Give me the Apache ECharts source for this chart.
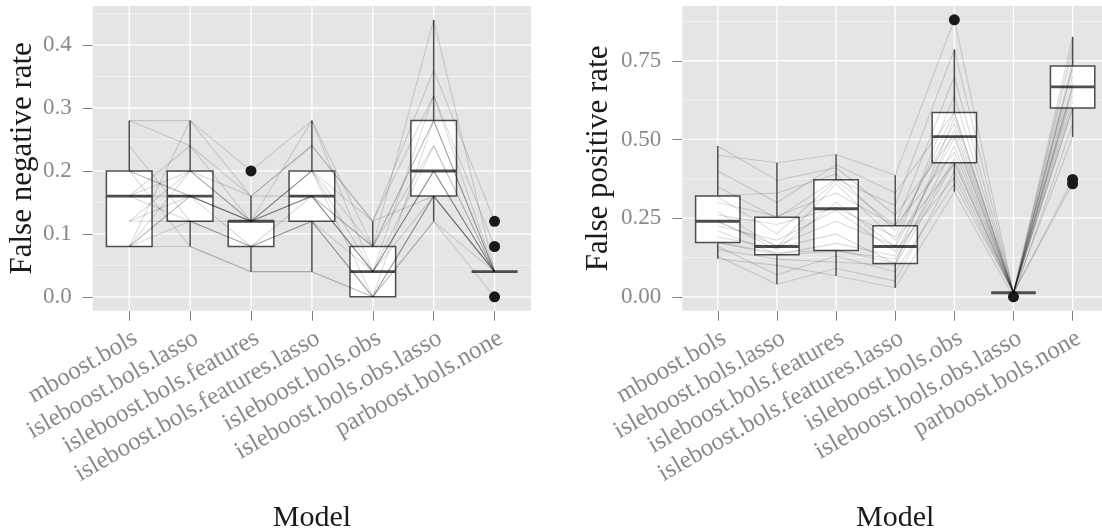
<!DOCTYPE html>
<html>
<head>
<meta charset="utf-8">
<script src="https://cdn.jsdelivr.net/npm/echarts@6/dist/echarts.min.js"></script>
<style>
  html, body { margin: 0; padding: 0; background: #ffffff; }
  #chart { width: 1102px; height: 531px; }
</style>
</head>
<body>
<div id="chart"></div>
<script>
// Model names along both x axes
const models = [
  'mboost.bols',
  'isleboost.bols.lasso',
  'isleboost.bols.features',
  'isleboost.bols.features.lasso',
  'isleboost.bols.obs',
  'isleboost.bols.obs.lasso',
  'parboost.bols.none'
];

// False negative rate per simulation run, one row per run, one column per model
const fnrRuns = [
  [0.28, 0.24, 0.12, 0.28, 0.08, 0.44, 0.04],
  [0.28, 0.28, 0.16, 0.24, 0.12, 0.36, 0.12],
  [0.08, 0.28, 0.20, 0.28, 0.04, 0.32, 0.04],
  [0.08, 0.20, 0.12, 0.20, 0.00, 0.28, 0.04],
  [0.08, 0.16, 0.12, 0.16, 0.04, 0.20, 0.04],
  [0.08, 0.12, 0.08, 0.12, 0.00, 0.16, 0.04],
  [0.08, 0.08, 0.04, 0.04, 0.00, 0.12, 0.00],
  [0.08, 0.16, 0.08, 0.16, 0.04, 0.24, 0.04],
  [0.12, 0.20, 0.12, 0.16, 0.08, 0.28, 0.04],
  [0.12, 0.16, 0.12, 0.20, 0.04, 0.20, 0.04],
  [0.12, 0.12, 0.08, 0.12, 0.00, 0.16, 0.04],
  [0.16, 0.24, 0.16, 0.24, 0.12, 0.32, 0.08],
  [0.16, 0.16, 0.12, 0.16, 0.04, 0.20, 0.04],
  [0.16, 0.20, 0.12, 0.20, 0.08, 0.28, 0.04],
  [0.16, 0.12, 0.08, 0.12, 0.00, 0.16, 0.04],
  [0.20, 0.20, 0.16, 0.16, 0.08, 0.24, 0.04],
  [0.20, 0.16, 0.12, 0.16, 0.04, 0.20, 0.04],
  [0.20, 0.16, 0.12, 0.20, 0.12, 0.16, 0.04],
  [0.20, 0.08, 0.04, 0.04, 0.00, 0.12, 0.04],
  [0.24, 0.12, 0.12, 0.12, 0.04, 0.16, 0.04]
];
// Box statistics per model: [lower whisker, Q1, median, Q3, upper whisker]
const fnrBox = [
  [0.08, 0.08, 0.16, 0.20, 0.28],
  [0.08, 0.12, 0.16, 0.20, 0.28],
  [0.04, 0.08, 0.12, 0.12, 0.16],
  [0.04, 0.12, 0.16, 0.20, 0.28],
  [0.00, 0.00, 0.04, 0.08, 0.12],
  [0.12, 0.16, 0.20, 0.28, 0.44],
  [0.04, 0.04, 0.04, 0.04, 0.04]
];
// Outliers: [model index, value]
const fnrOutliers = [[2, 0.20], [6, 0.12], [6, 0.08], [6, 0.00]];
const fnrTicks = [0.0, 0.1, 0.2, 0.3, 0.4];
const fnrMinor = [0.05, 0.15, 0.25, 0.35, 0.45];

// False positive rate per simulation run
const fprRuns = [
  [0.479, 0.370, 0.410, 0.260, 0.513, 0.013, 0.700],
  [0.450, 0.426, 0.452, 0.386, 0.880, 0.013, 0.800],
  [0.400, 0.300, 0.420, 0.330, 0.587, 0.013, 0.750],
  [0.350, 0.250, 0.374, 0.290, 0.786, 0.013, 0.826],
  [0.322, 0.330, 0.390, 0.210, 0.550, 0.013, 0.665],
  [0.318, 0.200, 0.370, 0.227, 0.460, 0.013, 0.732],
  [0.300, 0.256, 0.330, 0.225, 0.700, 0.013, 0.780],
  [0.270, 0.158, 0.360, 0.180, 0.424, 0.013, 0.359],
  [0.260, 0.230, 0.285, 0.190, 0.585, 0.013, 0.640],
  [0.242, 0.150, 0.300, 0.158, 0.505, 0.013, 0.680],
  [0.238, 0.162, 0.240, 0.162, 0.640, 0.013, 0.734],
  [0.225, 0.180, 0.275, 0.145, 0.380, 0.013, 0.602],
  [0.210, 0.135, 0.170, 0.130, 0.530, 0.013, 0.720],
  [0.190, 0.155, 0.200, 0.105, 0.570, 0.013, 0.669],
  [0.174, 0.133, 0.145, 0.120, 0.440, 0.013, 0.373],
  [0.172, 0.140, 0.149, 0.107, 0.480, 0.013, 0.655],
  [0.160, 0.070, 0.130, 0.080, 0.360, 0.013, 0.598],
  [0.150, 0.120, 0.110, 0.100, 0.428, 0.013, 0.620],
  [0.130, 0.040, 0.090, 0.050, 0.400, 0.013, 0.508],
  [0.121, 0.100, 0.067, 0.029, 0.334, 0.000, 0.550]
];
const fprBox = [
  [0.121, 0.173, 0.240, 0.320, 0.479],
  [0.040, 0.134, 0.160, 0.253, 0.426],
  [0.067, 0.147, 0.280, 0.372, 0.452],
  [0.029, 0.106, 0.160, 0.226, 0.386],
  [0.334, 0.426, 0.509, 0.586, 0.786],
  [0.013, 0.013, 0.013, 0.013, 0.013],
  [0.508, 0.600, 0.667, 0.733, 0.826]
];
const fprOutliers = [[4, 0.880], [5, 0.000], [6, 0.373], [6, 0.359]];
const fprTicks = [0.00, 0.25, 0.50, 0.75];
const fprMinor = [0.125, 0.375, 0.625, 0.875];

const categoryIdx = models.map((_, i) => i);

const SERIF = '"Liberation Serif", "DejaVu Serif", serif';
const PANEL = '#E5E5E5';
const BOX_EDGE = '#4D4D4D';
const TICK_GREY = '#808080';
const LABEL_GREY = '#8A8A8A';

// white grid lines spanning the whole panel
function gridLines(gi, values, horizontal, color, width) {
  return {
    type: 'custom', xAxisIndex: gi, yAxisIndex: gi, z: 1, silent: true,
    data: values.map(v => [v]),
    renderItem(params, api) {
      const cs = params.coordSys;
      const v = api.value(0);
      let shape;
      if (horizontal) {
        const y = api.coord([0, v])[1];
        shape = { x1: cs.x, y1: y, x2: cs.x + cs.width, y2: y };
      } else {
        const x = api.coord([v, 0])[0];
        shape = { x1: x, y1: cs.y, x2: x, y2: cs.y + cs.height };
      }
      return { type: 'line', shape, style: { stroke: color, lineWidth: width } };
    }
  };
}

// box + whiskers + thick median
function boxSeries(gi, stats) {
  return {
    type: 'custom', xAxisIndex: gi, yAxisIndex: gi, z: 2, silent: true,
    data: stats.map((s, i) => [i, ...s]),
    renderItem(params, api) {
      const x = api.value(0);
      const p = k => api.coord([x, api.value(k)]);
      const lo = p(1), q1 = p(2), md = p(3), q3 = p(4), hi = p(5);
      const half = api.size([0.75, 0])[0] / 2;
      const cx = lo[0];
      return {
        type: 'group',
        children: [
          { type: 'line', shape: { x1: cx, y1: hi[1], x2: cx, y2: lo[1] },
            style: { stroke: BOX_EDGE, lineWidth: 1.5 } },
          { type: 'rect', shape: { x: cx - half, y: q3[1], width: 2 * half, height: q1[1] - q3[1] },
            style: { fill: '#ffffff', stroke: BOX_EDGE, lineWidth: 1.5 } },
          { type: 'line', shape: { x1: cx - half, y1: md[1], x2: cx + half, y2: md[1] },
            style: { stroke: BOX_EDGE, lineWidth: 2.9 } }
        ]
      };
    }
  };
}

function outlierSeries(gi, pts) {
  return {
    type: 'scatter', xAxisIndex: gi, yAxisIndex: gi, z: 3, silent: true,
    symbolSize: 11, itemStyle: { color: '#1A1A1A', opacity: 1 },
    data: pts
  };
}

function runSeries(gi, runs) {
  return runs.map(r => ({
    type: 'line', xAxisIndex: gi, yAxisIndex: gi, z: 4, silent: true,
    showSymbol: false, symbol: 'none', animation: false,
    lineStyle: { color: 'rgba(0,0,0,0.14)', width: 1.1 },
    data: r.map((v, i) => [i, v])
  }));
}

function xAxis(gi) {
  return {
    gridIndex: gi, type: 'value', min: -0.6, max: 6.6, position: 'bottom',
    axisLine: { show: false, onZero: false }, splitLine: { show: false },
    axisTick: { show: true, length: 10, customValues: categoryIdx, lineStyle: { color: TICK_GREY, width: 1 } },
    axisLabel: {
      customValues: categoryIdx,
      formatter: v => models[Math.round(v)],
      rotate: 30, align: 'right', verticalAlign: 'top', margin: 15,
      color: LABEL_GREY, fontFamily: SERIF, fontSize: 25
    },
    name: 'Model', nameLocation: 'middle', nameGap: 192,
    nameTextStyle: { fontFamily: SERIF, fontSize: 30, color: '#1A1A1A' }
  };
}

function yAxis(gi, min, max, ticks, digits, title, gap) {
  return {
    gridIndex: gi, type: 'value', min, max, position: 'left',
    axisLine: { show: false, onZero: false }, splitLine: { show: false },
    axisTick: { show: true, length: 10, customValues: ticks, lineStyle: { color: TICK_GREY, width: 1 } },
    axisLabel: {
      customValues: ticks, formatter: v => v.toFixed(digits), margin: 21,
      color: LABEL_GREY, fontFamily: SERIF, fontSize: 23
    },
    name: title, nameLocation: 'middle', nameRotate: 90, nameGap: gap,
    nameTextStyle: { fontFamily: SERIF, fontSize: 31, color: '#1A1A1A' }
  };
}

const chart = echarts.init(document.getElementById('chart'), null, { renderer: 'canvas' });
chart.setOption({
  animation: false,
  backgroundColor: '#ffffff',
  grid: [
    { left: 92.7, top: 6, width: 438.4, height: 304.7, show: true, backgroundColor: PANEL, borderWidth: 0, containLabel: false, outerBoundsMode: 'none' },
    { left: 682.3, top: 6, width: 425.8, height: 304.7, show: true, backgroundColor: PANEL, borderWidth: 0, containLabel: false, outerBoundsMode: 'none' }
  ],
  xAxis: [xAxis(0), xAxis(1)],
  yAxis: [
    yAxis(0, -0.022, 0.462, fnrTicks, 1, 'False negative rate', 54),
    yAxis(1, -0.044, 0.924, fprTicks, 2, 'False positive rate', 68)
  ],
  series: [
    gridLines(0, fnrMinor, true, '#F2F2F2', 1),
    gridLines(0, fnrTicks, true, '#FFFFFF', 1.3),
    gridLines(0, categoryIdx, false, '#FFFFFF', 1.3),
    gridLines(1, fprMinor, true, '#F2F2F2', 1),
    gridLines(1, fprTicks, true, '#FFFFFF', 1.3),
    gridLines(1, categoryIdx, false, '#FFFFFF', 1.3),
    boxSeries(0, fnrBox),
    boxSeries(1, fprBox),
    outlierSeries(0, fnrOutliers),
    outlierSeries(1, fprOutliers),
    ...runSeries(0, fnrRuns),
    ...runSeries(1, fprRuns)
  ]
});
</script>
</body>
</html>
